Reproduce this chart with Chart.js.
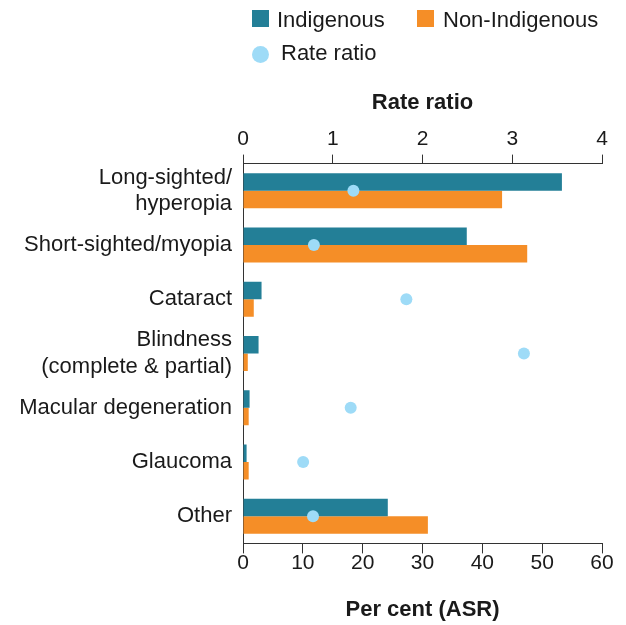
<!DOCTYPE html>
<html>
<head>
<meta charset="utf-8">
<script src="https://cdn.jsdelivr.net/npm/chart.js@4/dist/chart.umd.min.js"></script>
<style>
  body { margin: 0; background: #fff; }
  #wrap { position: relative; width: 626px; height: 625px; }
  .lg { position: absolute; font-family: "Liberation Sans", Arial, sans-serif; font-size: 22px; color: #1a1a1a; line-height: 24px; height: 24px; white-space: nowrap; }
  .sw { position: absolute; width: 17px; height: 17px; }
</style>
</head>
<body>
<div id="wrap">
  <canvas id="chart" width="626" height="625"></canvas>
  <!-- legend -->
  <div class="sw" style="left:252px;top:10px;background:#237f97"></div>
  <div class="lg" style="left:277px;top:8px">Indigenous</div>
  <div class="sw" style="left:417px;top:10px;background:#f58e27"></div>
  <div class="lg" style="left:443px;top:8px">Non-Indigenous</div>
  <div class="sw" style="left:252px;top:46px;border-radius:50%;background:#9edbf7"></div>
  <div class="lg" style="left:281px;top:41px">Rate ratio</div>
</div>
<script>
const categories = [
  ["Long-sighted/", "hyperopia"],
  "Short-sighted/myopia",
  "Cataract",
  ["Blindness", "(complete & partial)"],
  "Macular degeneration",
  "Glaucoma",
  "Other"
];
const indigenous = [53.3, 37.4, 3.1, 2.6, 1.1, 0.6, 24.2];
const nonIndigenous = [43.3, 47.5, 1.8, 0.8, 0.95, 0.95, 30.9];
const rateRatio = [1.23, 0.79, 1.82, 3.13, 1.2, 0.67, 0.78];

const FONT = "'Liberation Sans', Arial, sans-serif";
const AXIS = "#333333";

new Chart(document.getElementById("chart"), {
  type: "bar",
  data: {
    labels: categories,
    datasets: [
      {
        label: "Rate ratio",
        type: "line",
        indexAxis: "y",
        data: rateRatio,
        xAxisID: "x2",
        yAxisID: "y",
        showLine: false,
        pointRadius: 6,
        pointBackgroundColor: "#9edbf7",
        pointBorderWidth: 0,
        order: 0
      },
      {
        label: "Indigenous",
        data: indigenous,
        backgroundColor: "#237f97",
        xAxisID: "x",
        order: 1,
        categoryPercentage: 0.645,
        barPercentage: 1
      },
      {
        label: "Non-Indigenous",
        data: nonIndigenous,
        backgroundColor: "#f58e27",
        xAxisID: "x",
        order: 1,
        categoryPercentage: 0.645,
        barPercentage: 1
      }
    ]
  },
  options: {
    indexAxis: "y",
    responsive: false,
    animation: false,
    layout: { padding: { top: 90, right: 24, bottom: 0, left: 0 } },
    plugins: { legend: { display: false }, tooltip: { enabled: false } },
    scales: {
      x: {
        position: "bottom",
        min: 0, max: 60,
        ticks: { stepSize: 10, color: "#1a1a1a", padding: -3, font: { family: FONT, size: 21 } },
        grid: { drawOnChartArea: false, tickLength: 10, color: AXIS },
        border: { display: true, color: AXIS },
        title: {
          display: true, text: "Per cent (ASR)", color: "#1a1a1a",
          font: { family: FONT, size: 22, weight: "bold" },
          padding: { top: 24, bottom: 2 }
        }
      },
      x2: {
        position: "top",
        min: 0, max: 4,
        ticks: { stepSize: 1, color: "#1a1a1a", padding: 3, font: { family: FONT, size: 21 } },
        grid: { drawOnChartArea: false, tickLength: 9, color: AXIS },
        border: { display: true, color: AXIS },
        title: {
          display: true, text: "Rate ratio", color: "#1a1a1a",
          font: { family: FONT, size: 22, weight: "bold" },
          padding: { top: 0, bottom: 7 }
        }
      },
      y: {
        ticks: { autoSkip: false, color: "#1a1a1a", padding: 11, font: { family: FONT, size: 22 } },
        grid: { display: false, drawTicks: false },
        border: { display: true, color: AXIS },
        afterFit(scale) { scale.width = 243; }
      }
    }
  }
});
</script>
</body>
</html>
